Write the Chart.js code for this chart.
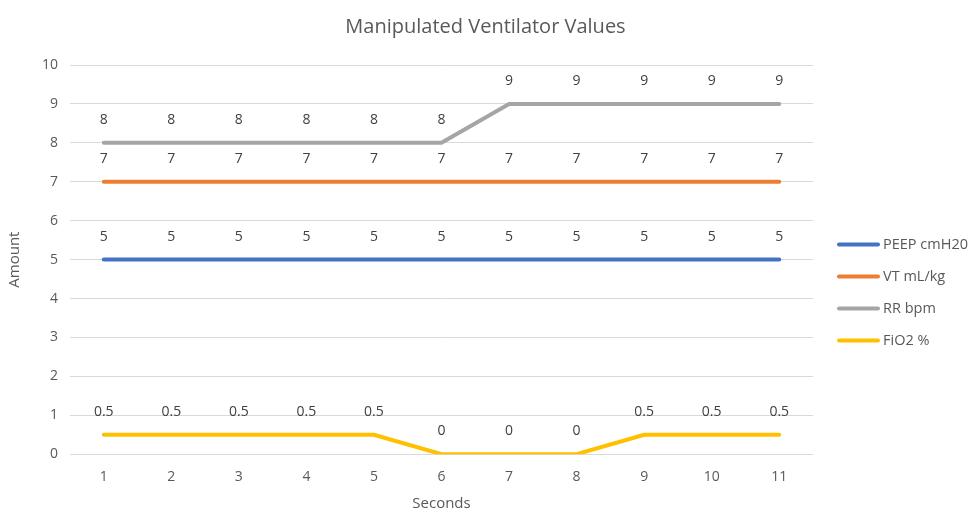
<!DOCTYPE html>
<html>
<head>
<meta charset="utf-8">
<script src="https://cdn.jsdelivr.net/npm/chart.js@4/dist/chart.umd.min.js"></script>
<style>
  html, body { margin: 0; padding: 0; background: #fff; }
  #wrap { width: 971px; height: 510px; }
</style>
</head>
<body>
<div id="wrap"><canvas id="chart"></canvas></div>
<script>
// chart data
const seconds = ['1', '2', '3', '4', '5', '6', '7', '8', '9', '10', '11'];
const peep = [5, 5, 5, 5, 5, 5, 5, 5, 5, 5, 5];
const vt = [7, 7, 7, 7, 7, 7, 7, 7, 7, 7, 7];
const rr = [8, 8, 8, 8, 8, 8, 9, 9, 9, 9, 9];
const fio2 = [0.5, 0.5, 0.5, 0.5, 0.5, 0, 0, 0, 0.5, 0.5, 0.5];

const chartTitle = 'Manipulated Ventilator Values';
const textColor = '#595959';
const fontFamily = '"Open Sans", "Noto Sans", sans-serif';

// simple value labels above each point
const valueLabels = {
  id: 'valueLabels',
  afterDatasetsDraw(chart) {
    const ctx = chart.ctx;
    ctx.save();
    ctx.font = '14px ' + fontFamily;
    ctx.fillStyle = '#404040';
    ctx.textAlign = 'center';
    ctx.textBaseline = 'middle';
    chart.data.datasets.forEach((ds, i) => {
      const meta = chart.getDatasetMeta(i);
      meta.data.forEach((pt, j) => {
        ctx.fillText(String(ds.data[j]), pt.x, pt.y - 23);
      });
    });
    ctx.restore();
  }
};

// title centred on the whole canvas (Excel style), plus legend on the right
const titleAndLegend = {
  id: 'titleAndLegend',
  afterDraw(chart) {
    const ctx = chart.ctx;
    const area = chart.chartArea;
    ctx.save();
    ctx.fillStyle = textColor;
    ctx.font = '20px ' + fontFamily;
    ctx.textAlign = 'center';
    ctx.textBaseline = 'middle';
    ctx.fillText(chartTitle, chart.width / 2, 27);

    const x = area.right + 26;
    const step = 32;
    const items = chart.data.datasets;
    let y = (area.top + area.bottom) / 2 + 33 - step * (items.length - 1) / 2;
    ctx.font = '14.5px ' + fontFamily;
    ctx.textAlign = 'left';
    items.forEach(ds => {
      ctx.strokeStyle = ds.borderColor;
      ctx.lineWidth = 4;
      ctx.lineCap = 'round';
      ctx.beginPath();
      ctx.moveTo(x, y);
      ctx.lineTo(x + 39, y);
      ctx.stroke();
      ctx.fillText(ds.label, x + 44, y);
      y += step;
    });
    ctx.restore();
  }
};

function line(label, data, color) {
  return {
    label, data,
    borderColor: color,
    backgroundColor: color,
    borderWidth: 4,
    borderCapStyle: 'round',
    pointRadius: 0,
    tension: 0,
    fill: false
  };
}

new Chart(document.getElementById('chart'), {
  type: 'line',
  data: {
    labels: seconds,
    datasets: [
      line('PEEP cmH20', peep, '#4472C4'),
      line('VT mL/kg', vt, '#ED7D31'),
      line('RR bpm', rr, '#A5A5A5'),
      line('FiO2 %', fio2, '#FFC000')
    ]
  },
  options: {
    responsive: true,
    maintainAspectRatio: false,
    animation: false,
    layout: { padding: { top: 65, right: 158, bottom: 0, left: 2 } },
    plugins: {
      title: { display: false },
      legend: { display: false },
      tooltip: { enabled: false }
    },
    scales: {
      x: {
        offset: true,
        grid: { display: false },
        border: { display: false },
        ticks: { color: textColor, font: { family: fontFamily, size: 14 }, padding: 6 },
        title: {
          display: true, text: 'Seconds', color: textColor,
          font: { family: fontFamily, size: 15 }, padding: { top: 4, bottom: -3 }
        }
      },
      y: {
        min: 0, max: 10,
        ticks: { stepSize: 1, color: textColor, font: { family: fontFamily, size: 14 }, padding: 12 },
        grid: { color: '#d9d9d9', drawTicks: false },
        border: { display: false },
        title: {
          display: true, text: 'Amount', color: textColor,
          font: { family: fontFamily, size: 15 }, padding: { bottom: 6 }
        }
      }
    }
  },
  plugins: [valueLabels, titleAndLegend]
});
</script>
</body>
</html>
